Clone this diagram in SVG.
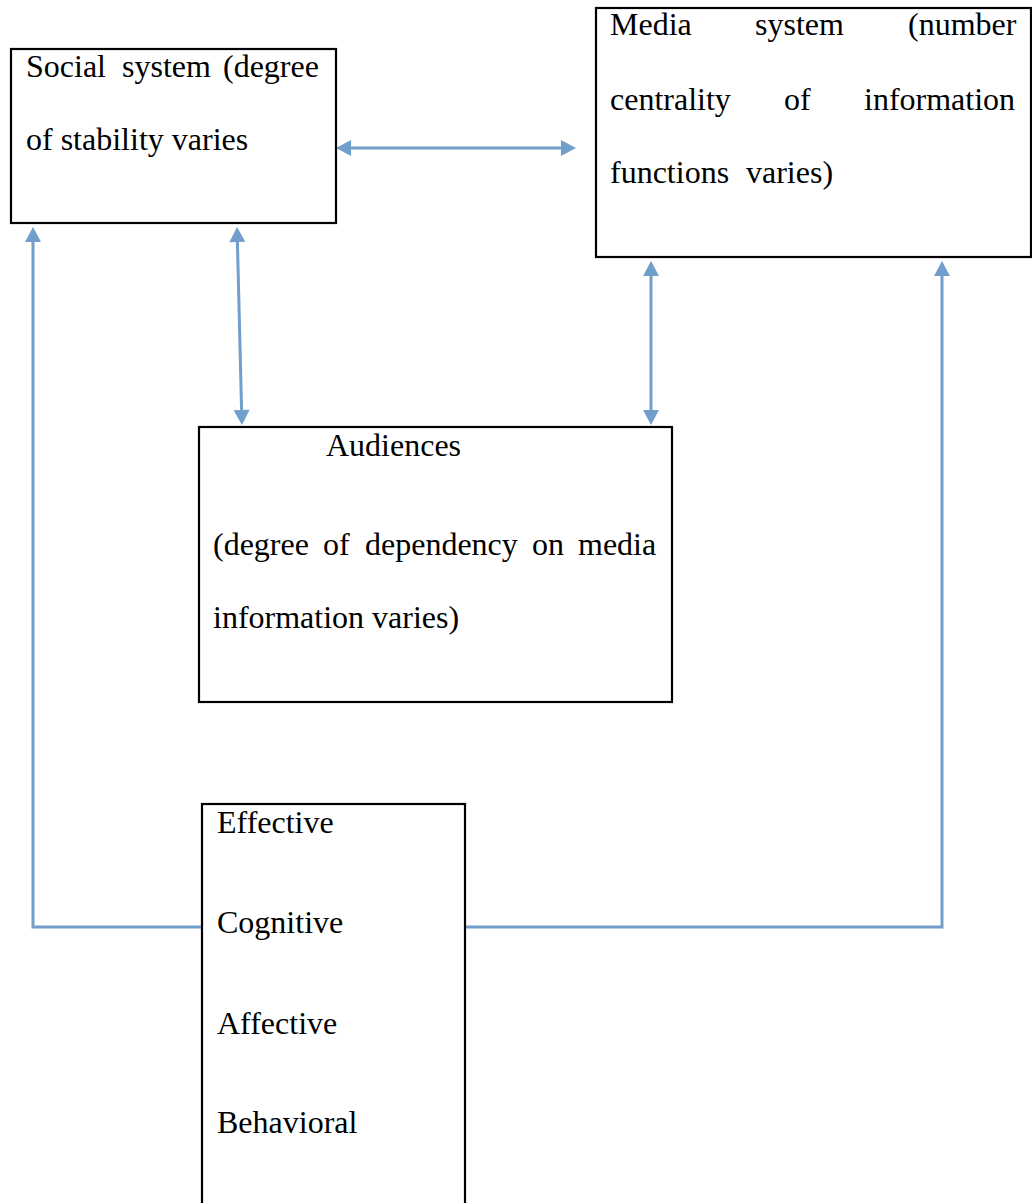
<svg xmlns="http://www.w3.org/2000/svg" width="1032" height="1203" viewBox="0 0 1032 1203">
  <style>
    .box { fill: #ffffff; stroke: #000000; stroke-width: 2.2; }
    .t { font-family: "Liberation Serif", "Times New Roman", serif; font-size: 32px; fill: #000000; }
    .conn { fill: none; stroke: #729ecb; stroke-width: 3; }
  </style>
  <defs>
    <marker id="ah" markerUnits="userSpaceOnUse" markerWidth="18" markerHeight="18" viewBox="0 -9 16 18" refX="0" refY="0" orient="auto-start-reverse">
      <path d="M0,-8 L15,0 L0,8 z" fill="#729ecb"/>
    </marker>
  </defs>
  <rect width="1032" height="1203" fill="#ffffff"/>

  <g id="connectors">
    <line class="conn" x1="351" y1="148" x2="561" y2="148" marker-start="url(#ah)" marker-end="url(#ah)"/>
    <line class="conn" x1="237.4" y1="242" x2="241.6" y2="410" marker-start="url(#ah)" marker-end="url(#ah)"/>
    <line class="conn" x1="651" y1="276" x2="651" y2="410" marker-start="url(#ah)" marker-end="url(#ah)"/>
    <polyline class="conn" points="202,927 33,927 33,242" marker-end="url(#ah)"/>
    <polyline class="conn" points="466,927 942,927 942,276" marker-end="url(#ah)"/>
  </g>

  <g id="social-system">
    <rect class="box" x="11" y="49" width="325" height="174"/>
    <text class="t" y="77"><tspan x="26">Social</tspan><tspan x="122">system</tspan><tspan x="223">(degree</tspan></text>
    <text class="t" x="26" y="150">of stability varies</text>
  </g>

  <g id="media-system">
    <rect class="box" x="596" y="8" width="435" height="249"/>
    <text class="t" y="35"><tspan x="610">Media</tspan><tspan x="755">system</tspan><tspan x="908">(number</tspan></text>
    <text class="t" y="110"><tspan x="610">centrality</tspan><tspan x="784">of</tspan><tspan x="864">information</tspan></text>
    <text class="t" y="183"><tspan x="610">functions</tspan><tspan x="746">varies)</tspan></text>
  </g>

  <g id="audiences">
    <rect class="box" x="199" y="427" width="473" height="275"/>
    <text class="t" x="326" y="456">Audiences</text>
    <text class="t" y="555"><tspan x="213">(degree</tspan><tspan x="323">of</tspan><tspan x="365">dependency</tspan><tspan x="532">on</tspan><tspan x="578">media</tspan></text>
    <text class="t" x="213" y="628">information varies)</text>
  </g>

  <g id="effects">
    <rect class="box" x="202" y="804" width="263" height="420"/>
    <text class="t" x="217" y="833">Effective</text>
    <text class="t" x="217" y="933">Cognitive</text>
    <text class="t" x="217" y="1034">Affective</text>
    <text class="t" x="217" y="1133">Behavioral</text>
  </g>
</svg>
